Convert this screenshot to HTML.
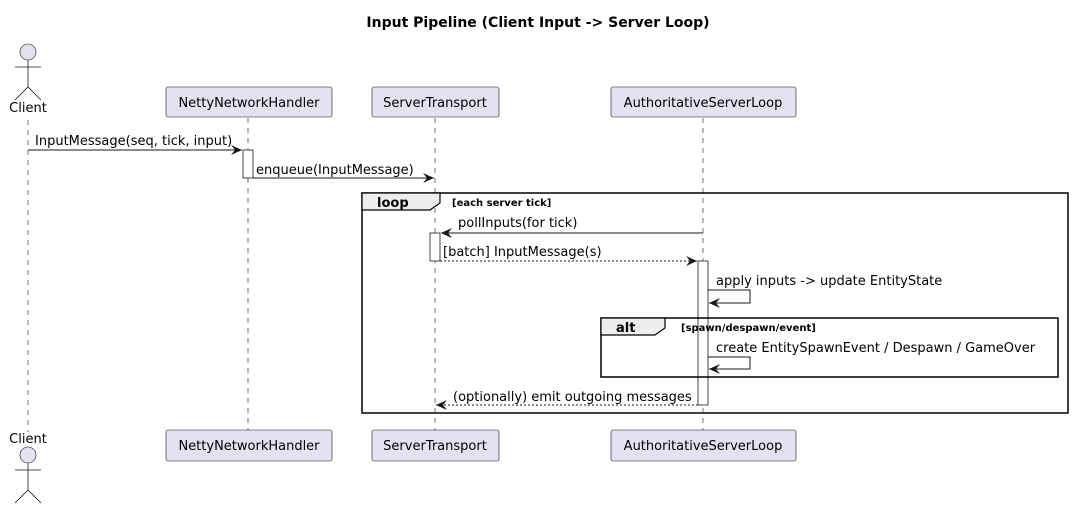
<!DOCTYPE html>
<html><head><meta charset="utf-8"><style>body{margin:0;background:#fff}svg{display:block;font-family:"DejaVu Sans","Liberation Sans",sans-serif}</style></head><body>
<svg width="1072" height="510" viewBox="0 0 1072 510" xmlns="http://www.w3.org/2000/svg">
<defs><marker id="a" markerWidth="12" markerHeight="10" refX="11" refY="5" orient="auto" markerUnits="userSpaceOnUse"><path d="M0,0 L11,5 L0,10 L4,5 Z" fill="#181818"/></marker></defs>
<text x="538" y="27" text-anchor="middle" font-weight="bold" font-size="14">Input Pipeline (Client Input -&gt; Server Loop)</text>
<g stroke="#181818" stroke-width="0.6" stroke-dasharray="5,5">
<line x1="28" y1="120" x2="28" y2="432"/><line x1="248" y1="118" x2="248" y2="430"/><line x1="435" y1="118" x2="435" y2="430"/><line x1="703" y1="118" x2="703" y2="430"/></g>
<g fill="#E2E2F0" stroke="#181818" stroke-width="0.6">
<rect x="166" y="87" width="166" height="30" rx="2"/><rect x="372" y="87" width="127" height="30" rx="2"/><rect x="611" y="87" width="185" height="30" rx="2"/>
<rect x="166" y="430" width="166" height="31" rx="2"/><rect x="372" y="430" width="127" height="31" rx="2"/><rect x="611" y="430" width="185" height="31" rx="2"/>
<circle cx="28" cy="52" r="8"/><circle cx="28" cy="455" r="8"/></g>
<g stroke="#181818" stroke-width="0.8" fill="none">
<path d="M28,60 V87 M15,67 H41 M15,100 L28,87 L41,100"/>
<path d="M28,463 V490 M15,470 H41 M15,503 L28,490 L41,503"/></g>
<g font-size="13" fill="#000" text-anchor="middle">
<text x="28" y="112">Client</text><text x="28" y="443">Client</text>
<text x="249" y="107">NettyNetworkHandler</text><text x="435" y="107">ServerTransport</text><text x="703" y="107">AuthoritativeServerLoop</text>
<text x="249" y="450">NettyNetworkHandler</text><text x="435" y="450">ServerTransport</text><text x="703" y="450">AuthoritativeServerLoop</text></g>
<!-- activations -->
<g fill="#fff" stroke="#181818" stroke-width="0.8"><rect x="243" y="150" width="10" height="28"/><rect x="430" y="233" width="10" height="28"/><rect x="698" y="261" width="10" height="144"/></g>
<!-- frames -->
<g stroke="#000" stroke-width="1.5" fill="none"><rect x="362" y="193" width="706" height="220"/><rect x="601" y="318" width="457" height="59"/></g>
<path d="M362,193 H440 V203 L430,210 H362 Z" fill="#EEEEEE" stroke="#000" stroke-width="1.2"/>
<path d="M601,318 H665 V328 L655,335 H601 Z" fill="#EEEEEE" stroke="#000" stroke-width="1.2"/>
<text x="377" y="207" font-weight="bold" font-size="13">loop</text>
<text x="452" y="206" font-weight="bold" font-size="10">[each server tick]</text>
<text x="616" y="332" font-weight="bold" font-size="13">alt</text>
<text x="681" y="331" font-weight="bold" font-size="10">[spawn/despawn/event]</text>
<!-- messages -->
<g stroke="#181818" stroke-width="1" fill="none" marker-end="url(#a)">
<line x1="28" y1="150" x2="242" y2="150"/>
<line x1="253" y1="178" x2="434" y2="178"/>
<line x1="703" y1="233" x2="441" y2="233"/>
<line x1="440" y1="261" x2="697" y2="261" stroke-dasharray="2,2"/>
<path d="M708,290 H750 V303 H709"/>
<path d="M708,357 H750 V369 H709"/>
<line x1="698" y1="405" x2="436" y2="405" stroke-dasharray="2,2"/></g>
<g font-size="13" fill="#000">
<text x="35" y="145">InputMessage(seq, tick, input)</text>
<text x="256" y="174">enqueue(InputMessage)</text>
<text x="458" y="227">pollInputs(for tick)</text>
<text x="443" y="256">[batch] InputMessage(s)</text>
<text x="716" y="285">apply inputs -&gt; update EntityState</text>
<text x="716" y="352">create EntitySpawnEvent / Despawn / GameOver</text>
<text x="453" y="401">(optionally) emit outgoing messages</text></g>
</svg></body></html>
